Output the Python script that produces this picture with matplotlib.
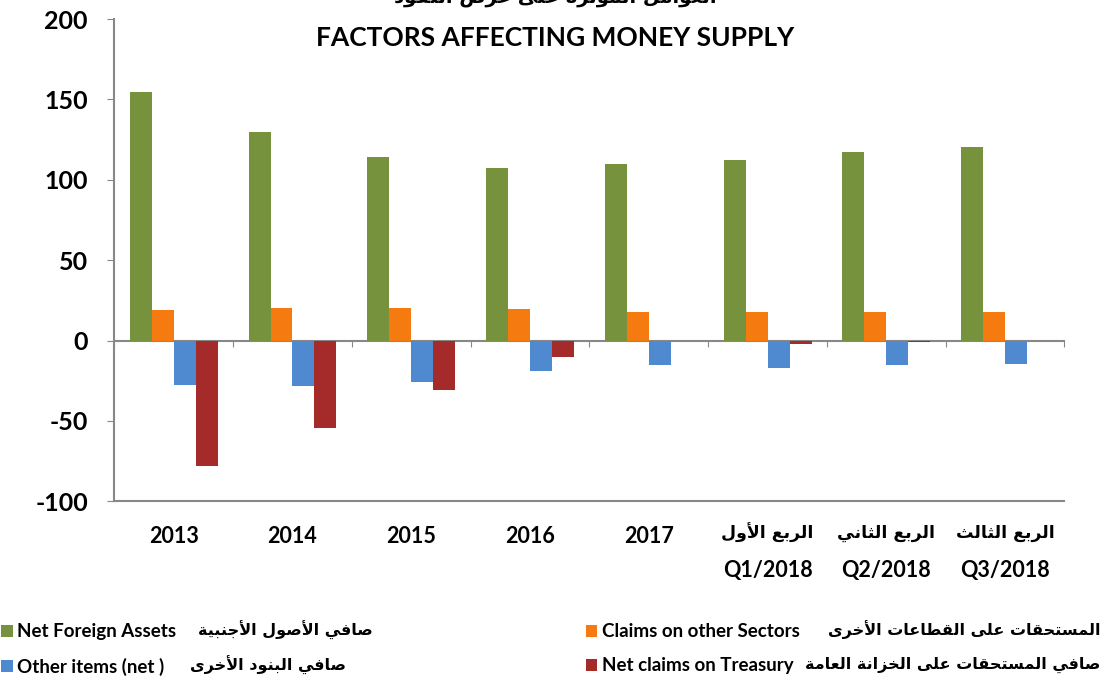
import numpy as np
import matplotlib
matplotlib.use('Agg')
from matplotlib import pyplot as plt

# data
categories = ['2013', '2014', '2015', '2016', '2017', 'Q1/2018', 'Q2/2018', 'Q3/2018']
quarter_ar = ['', '', '', '', '', 'الربع الأول', 'الربع الثاني', 'الربع الثالث']
net_foreign_assets = [154.5, 129.5, 114.5, 107.5, 110, 112.5, 117.5, 120.5]
claims_other_sectors = [19, 20, 20, 19.5, 17.5, 17.5, 17.5, 17.5]
other_items_net = [-27.5, -28, -25.5, -19, -15.5, -17, -15, -14.5]
net_claims_treasury = [-78, -54.5, -31, -10.5, -0.5, -2, -1, -0.3]

series_en = ['Net Foreign Assets', 'Claims on other Sectors', 'Other items (net )', 'Net claims on Treasury']
series_ar = ['صافي الأصول الأجنبية', 'المستحقات على القطاعات الأخرى',
             'صافي البنود الأخرى', 'صافي المستحقات على الخزانة العامة']
colors = ['#76923C', '#F57A10', '#4F8AD0', '#A52A2A']

title_en = 'FACTORS AFFECTING MONEY SUPPLY'
title_ar = 'العوامل المؤثرة على عرض النقود'

# minimal arabic shaping (presentation forms) + right-to-left order
FORMS = {
    'ا': (0xFE8D, 2), 'أ': (0xFE83, 2), 'ؤ': (0xFE85, 2), 'ب': (0xFE8F, 4), 'ة': (0xFE93, 2),
    'ت': (0xFE95, 4), 'ث': (0xFE99, 4), 'ج': (0xFE9D, 4), 'ح': (0xFEA1, 4), 'خ': (0xFEA5, 4),
    'د': (0xFEA9, 2), 'ر': (0xFEAD, 2), 'ز': (0xFEAF, 2), 'س': (0xFEB1, 4), 'ص': (0xFEB9, 4),
    'ض': (0xFEBD, 4), 'ط': (0xFEC1, 4), 'ع': (0xFEC9, 4), 'ف': (0xFED1, 4), 'ق': (0xFED5, 4),
    'ل': (0xFEDD, 4), 'م': (0xFEE1, 4), 'ن': (0xFEE5, 4), 'ه': (0xFEE9, 4), 'و': (0xFEED, 2),
    'ى': (0xFEEF, 2), 'ي': (0xFEF1, 4), 'لا': (0xFEFB, 2), 'لأ': (0xFEF7, 2),
}


def arabic(text):
    tokens, i = [], 0
    while i < len(text):
        if text[i:i + 2] in FORMS:
            tokens.append(text[i:i + 2])
            i += 2
        else:
            tokens.append(text[i])
            i += 1
    out = []
    for k, t in enumerate(tokens):
        if t not in FORMS:
            out.append(t)
            continue
        base, n = FORMS[t]
        prev = tokens[k - 1] if k > 0 else ''
        nxt = tokens[k + 1] if k + 1 < len(tokens) else ''
        jp = prev in FORMS and FORMS[prev][1] == 4
        jn = n == 4 and nxt in FORMS
        if jp and jn:
            out.append(chr(base + 3))
        elif jp:
            out.append(chr(base + 1))
        elif jn:
            out.append(chr(base + 2))
        else:
            out.append(chr(base))
    return ''.join(reversed(out))


plt.rcParams['font.family'] = ['Lato', 'DejaVu Sans']
plt.rcParams['font.weight'] = 'bold'
plt.rcParams['axes.unicode_minus'] = False

fig = plt.figure(figsize=(11.1, 6.82), dpi=100)
ax = fig.add_axes([0.103, 0.265, 0.856, 0.707])

x = np.arange(len(categories))
w = 0.185
values = [net_foreign_assets, claims_other_sectors, other_items_net, net_claims_treasury]
bars = []
for j, vals in enumerate(values):
    b = ax.bar(x + (j - 1.5) * w, vals, w, color=colors[j], zorder=2)
    bars.append(b)

ax.set_xlim(-0.5, len(categories) - 0.5)
ax.set_ylim(-100, 200)
ax.set_yticks([-100, -50, 0, 50, 100, 150, 200])
ax.tick_params(axis='y', labelsize=18, length=5, color='#888888', pad=14)

# years on the first line; quarter codes go one line lower with the arabic name above
ax.set_xticks(x)
ax.set_xticklabels(categories, fontsize=15.5)
ax.tick_params(axis='x', length=0, pad=17.5)
for tick, q in zip(ax.xaxis.get_major_ticks(), quarter_ar):
    if q:
        tick.set_pad(42)
for xi, q in zip(x, quarter_ar):
    if q:
        ax.annotate(arabic(q), xy=(xi, 0), xycoords=('data', 'axes fraction'),
                    xytext=(0, -23), textcoords='offset points', ha='center', va='center',
                    fontsize=12.5, family=['DejaVu Sans'])

for s in ['top', 'right']:
    ax.spines[s].set_visible(False)
for s in ['left', 'bottom']:
    ax.spines[s].set_color('#888888')
    ax.spines[s].set_linewidth(1.5)

# category axis crossing at zero
sec = ax.secondary_xaxis(1 / 3)
sec.set_xticks(np.arange(len(categories) + 1) - 0.5)
sec.set_xticklabels([])
sec.tick_params(length=4, color='#888888', direction='out')
sec.spines['bottom'].set_color('#888888')
sec.spines['bottom'].set_linewidth(1.5)
sec.spines['top'].set_color('#888888')
sec.spines['top'].set_linewidth(1.5)

fig.text(0.5, 0.945, title_en, ha='center', va='center', fontsize=19)
fig.text(0.5, 1.004, arabic(title_ar), ha='center', va='center', fontsize=14,
         family=['DejaVu Sans'])

# legend: english part as a real legend, arabic names placed after each entry
order = [0, 2, 1, 3]
handles = [bars[i] for i in order]
fig.legend(handles, [series_en[i] for i in order], ncol=2, loc='lower left',
           bbox_to_anchor=(-0.014, -0.0153), frameon=False, fontsize=13.5,
           handlelength=0.6, handleheight=0.6, handletextpad=0.25,
           columnspacing=21.85, labelspacing=0.92)
ar_pos = [(198, 630, 'left'), (190, 665, 'left'), (1100, 630, 'right'), (1100, 665, 'right')]
for i, (px, py, ha) in zip(order, ar_pos):
    fig.text(px / 1110, 1 - py / 682, arabic(series_ar[i]), ha=ha, va='center',
             fontsize=11.5, family=['DejaVu Sans'])

plt.savefig('out.png', dpi=100)
